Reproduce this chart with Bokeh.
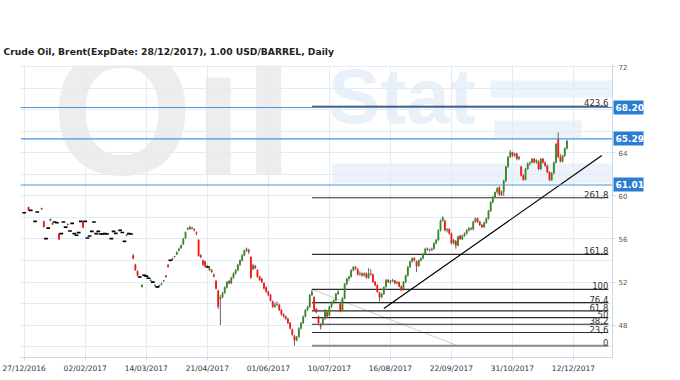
import pandas as pd
from bokeh.plotting import figure
from bokeh.models import ColumnDataSource, FixedTicker, Label, BoxAnnotation, Span, LinearAxis
from bokeh.core.properties import value
from bokeh.embed import file_html
from bokeh.resources import INLINE

title_text = "Crude Oil, Brent(ExpDate: 28/12/2017), 1.00 USD/BARREL, Daily"

date_labels = ["27/12/2016", "02/02/2017", "14/03/2017", "21/04/2017", "01/06/2017",
               "10/07/2017", "16/08/2017", "22/09/2017", "31/10/2017", "12/12/2017"]
date_tick_step = 28  # trading days between date labels

opens = [58.44, None, 58.96, 58.65, None, 57.63, 58.5, None, 58.75, 57.65,
         56.03, 57.01, 57.7, 57.5, 57.57, 57.51, 56.5, 56.5, 57.57, 57.1,
         57.4, 56.74, 57.45, 56.5, 56.34, 56.59, 57.63, 57.6, 57.63, 56.09,
         56.27, 56.71, 57.57, 56.5, 56.71, 56.46, 56.46, 56.5, 56.46, None,
         56.03, 56.71, 56.52, None, 56.8, 56.6, 55.78, 56.3, 56.5, 56.46,
         54.5, 53.6, 53.0, 52.47, 51.55, 52.63, 52.55, 52.35, 52.1, 52.0,
         51.65, 51.55, 51.55, 51.75, 52.1, 52.6, 53.6, 54.02, 54.05, 54.4,
         54.55, 54.9, 55.15, 55.5, 56.1, 57.0, 56.9, 57.05, 56.9, 56.6,
         55.9, 54.5, 54.0, 53.9, 53.4, 53.1, 53.1, 52.7, 52.1, 51.2,
         50.4, 50.6, 51.0, 51.5, 52.1, 51.9, 52.4, 52.8, 53.1, 53.6,
         54.0, 54.5, 54.95, 55.0, 54.33, 53.2, 53.5, 53.1, 52.5, 52.3,
         51.9, 51.5, 51.1, 50.8, 50.2, 49.7, 49.9, 49.9, 49.4, 49.0,
         48.8, 48.6, 48.2, 47.6, 47.0, 46.6, 46.9, 47.7, 48.2, 48.8,
         49.4, 49.7, 50.8, 50.6, 49.5, 48.8, 48.0, 48.15, 48.6, 49.2,
         48.9, 49.7, 50.1, 50.3, 50.9, 50.0, 49.4, 50.5, 51.85, 52.3,
         52.5, 53.1, 53.4, 53.2, 52.7, 52.8, 52.6, 52.8, 52.4, 52.8,
         52.7, 52.0, 51.7, 51.0, 50.6, 50.9, 51.55, 52.2, 52.0, 52.1,
         52.17, 51.9, 52.0, 51.6, 51.3, 52.0, 52.6, 53.4, 53.9, 54.2,
         53.9, 53.5, 54.0, 54.2, 54.6, 55.1, 55.0, 54.95, 55.1, 55.6,
         55.9, 56.8, 57.7, 57.7, 56.8, 56.9, 56.5, 55.6, 55.8, 55.4,
         56.3, 56.0, 56.3, 56.5, 56.8, 57.0, 56.9, 57.6, 57.9, 57.6,
         57.3, 57.1, 57.5, 57.9, 58.6, 59.4, 59.9, 60.35, 60.8, 60.1,
         60.4, 61.4, 62.7, 63.6, 64.05, 63.75, 63.9, 63.45, 62.7, 61.9,
         61.5, 62.5, 63.0, 63.1, 63.45, 63.13, 63.2, 62.5, 63.45, 63.1,
         62.8, 62.2, 61.45, 62.1, 63.1, 65.3, 63.6, 63.2, 63.75, 64.4]

highs = [58.44, None, 59.0, 58.65, None, 57.63, 58.5, None, 58.9, 57.7,
         56.03, 57.01, 57.9, 57.55, 57.57, 57.51, 56.55, 56.5, 57.57, 57.1,
         57.45, 56.74, 57.45, 56.5, 56.34, 56.59, 57.63, 57.65, 57.63, 56.09,
         56.27, 56.71, 57.57, 56.5, 56.71, 56.46, 56.46, 56.5, 56.46, None,
         56.03, 56.71, 56.52, None, 56.8, 56.6, 55.78, 56.45, 56.5, 56.46,
         54.6, 53.7, 53.1, 52.55, 51.8, 52.7, 52.6, 52.5, 52.3, 52.1,
         51.8, 51.65, 51.75, 51.95, 52.2, 52.65, 53.65, 54.1, 54.25, 54.45,
         54.85, 55.2, 55.5, 56.1, 56.7, 57.1, 57.25, 57.15, 57.0, 56.7,
         56.0, 54.6, 54.1, 54.0, 53.6, 53.5, 53.2, 52.8, 52.2, 51.3,
         50.8, 51.1, 51.6, 52.1, 52.2, 52.5, 52.9, 53.2, 53.7, 54.1,
         54.6, 55.0, 55.2, 55.1, 54.4, 53.7, 53.6, 53.2, 52.6, 52.4,
         52.0, 51.6, 51.2, 50.9, 50.3, 50.1, 50.2, 50.0, 49.5, 49.1,
         48.9, 48.7, 48.3, 47.7, 47.1, 47.0, 47.8, 48.3, 48.9, 49.5,
         49.8, 50.9, 51.33, 50.7, 49.6, 48.9, 48.2, 48.7, 49.5, 49.3,
         49.8, 50.2, 50.4, 51.0, 51.3, 50.1, 50.6, 51.9, 52.4, 52.6,
         53.2, 53.5, 53.5, 53.3, 53.0, 52.9, 52.9, 52.9, 53.3, 53.2,
         52.8, 52.1, 51.8, 51.1, 51.0, 51.6, 52.3, 52.3, 52.2, 52.3,
         52.2, 52.1, 52.05, 51.7, 52.1, 52.7, 53.5, 54.0, 54.3, 54.3,
         54.0, 54.1, 54.3, 54.7, 55.2, 55.2, 55.1, 55.2, 55.7, 56.0,
         56.9, 57.8, 58.1, 57.8, 57.0, 57.0, 56.6, 56.0, 55.9, 56.3,
         56.4, 56.4, 56.6, 56.9, 57.1, 57.1, 57.7, 58.0, 58.0, 57.7,
         57.4, 57.6, 58.0, 58.7, 59.5, 60.0, 60.4, 60.8, 60.9, 60.5,
         61.5, 62.8, 63.7, 64.25, 64.1, 64.0, 64.0, 63.7, 62.8, 62.0,
         62.6, 63.1, 63.2, 63.5, 63.5, 63.4, 63.3, 63.5, 63.5, 63.2,
         62.9, 62.3, 62.2, 63.2, 64.9, 65.9, 63.9, 63.8, 64.5, 65.2]

lows = [58.44, None, 58.6, 58.65, None, 57.63, 58.5, None, 58.7, 57.05,
        56.03, 57.01, 57.65, 57.3, 57.57, 57.51, 55.9, 56.5, 57.57, 57.1,
        57.25, 56.74, 57.45, 56.5, 56.34, 56.59, 57.63, 57.0, 57.63, 56.09,
        56.27, 56.71, 57.57, 56.5, 56.71, 56.46, 56.46, 56.5, 56.46, None,
        56.03, 56.71, 56.52, None, 56.8, 56.6, 55.78, 56.25, 56.5, 56.46,
        54.1, 53.05, 52.55, 52.4, 51.5, 52.55, 52.45, 52.3, 52.05, 51.95,
        51.6, 51.45, 51.5, 51.7, 52.0, 52.4, 53.35, 53.9, 54.0, 54.25,
        54.5, 54.85, 55.1, 55.45, 56.0, 56.8, 56.85, 56.9, 56.7, 56.35,
        54.35, 54.2, 53.5, 53.4, 53.3, 53.05, 52.85, 52.45, 51.3, 49.5,
        48.0, 50.5, 50.9, 51.4, 51.8, 51.8, 52.3, 52.7, 53.0, 53.5,
        53.9, 54.4, 54.8, 54.6, 52.3, 53.1, 53.2, 52.4, 52.1, 51.9,
        51.3, 51.0, 50.7, 50.2, 49.6, 49.6, 49.8, 49.3, 48.9, 48.7,
        48.5, 48.1, 47.6, 47.0, 46.1, 46.5, 46.85, 47.6, 48.1, 48.7,
        49.3, 49.6, 50.7, 49.3, 49.1, 48.1, 47.6, 48.0, 48.5, 48.7,
        48.8, 49.6, 50.0, 50.2, 50.8, 49.2, 49.3, 50.4, 51.7, 52.1,
        52.4, 53.0, 53.1, 52.6, 52.6, 52.5, 52.5, 52.3, 52.3, 52.6,
        51.9, 51.6, 51.0, 50.2, 50.5, 50.8, 51.5, 51.9, 51.8, 52.0,
        51.8, 51.8, 51.5, 51.15, 51.2, 51.9, 52.5, 53.3, 53.8, 53.9,
        52.94, 53.4, 53.9, 54.1, 54.5, 54.9, 54.8, 54.9, 55.0, 55.5,
        55.8, 56.7, 57.6, 56.7, 56.6, 56.4, 55.5, 55.5, 55.1, 55.3,
        55.9, 55.9, 56.2, 56.4, 56.7, 56.8, 56.8, 57.5, 57.5, 57.2,
        57.0, 57.0, 57.4, 57.8, 58.5, 59.3, 59.8, 60.2, 60.0, 60.0,
        60.0, 61.3, 62.6, 63.5, 63.6, 63.6, 63.3, 63.3, 61.8, 61.4,
        61.45, 62.4, 62.8, 63.0, 63.0, 63.0, 62.4, 62.4, 63.0, 62.7,
        62.1, 61.4, 61.4, 62.0, 63.0, 63.5, 63.1, 63.1, 63.6, 64.3]

closes = [58.44, None, 58.65, 58.65, None, 57.63, 58.5, None, 58.88, 57.1,
          56.03, 57.01, 57.85, 57.35, 57.57, 57.51, 55.95, 56.5, 57.57, 57.1,
          57.3, 56.74, 57.45, 56.5, 56.34, 56.59, 57.63, 57.05, 57.63, 56.09,
          56.27, 56.71, 57.57, 56.5, 56.71, 56.46, 56.46, 56.5, 56.46, None,
          56.03, 56.71, 56.52, None, 56.8, 56.6, 55.78, 56.42, 56.5, 56.46,
          54.18, 53.1, 52.6, 52.47, 51.75, 52.63, 52.55, 52.35, 52.2, 52.0,
          51.75, 51.55, 51.7, 51.86, 52.17, 52.47, 53.4, 54.02, 54.18, 54.33,
          54.79, 55.1, 55.41, 56.03, 56.65, 56.9, 57.1, 56.96, 56.8, 56.5,
          54.45, 54.33, 53.6, 53.45, 53.4, 53.3, 52.94, 52.5, 51.4, 49.7,
          50.6, 50.96, 51.5, 52.0, 51.9, 52.4, 52.8, 53.1, 53.6, 54.02,
          54.5, 54.95, 55.1, 54.8, 52.4, 53.56, 53.3, 52.5, 52.2, 52.0,
          51.4, 51.1, 50.8, 50.3, 49.7, 49.9, 50.0, 49.4, 49.0, 48.8,
          48.6, 48.2, 47.7, 47.1, 46.6, 46.9, 47.7, 48.2, 48.8, 49.4,
          49.7, 50.8, 51.1, 49.4, 49.2, 48.2, 47.85, 48.6, 49.4, 48.8,
          49.7, 50.1, 50.3, 50.9, 51.1, 49.3, 50.5, 51.85, 52.3, 52.5,
          53.1, 53.4, 53.25, 52.7, 52.8, 52.6, 52.8, 52.4, 52.8, 52.7,
          52.0, 51.7, 51.1, 50.6, 50.9, 51.55, 52.17, 52.0, 52.1, 52.17,
          51.9, 52.0, 51.6, 51.24, 52.0, 52.6, 53.4, 53.9, 54.2, 54.02,
          53.5, 54.02, 54.2, 54.6, 55.1, 55.0, 54.95, 55.1, 55.6, 55.9,
          56.8, 57.7, 58.0, 56.8, 56.9, 56.5, 55.6, 55.9, 55.4, 56.2,
          56.0, 56.3, 56.5, 56.8, 57.0, 56.9, 57.6, 57.9, 57.6, 57.3,
          57.1, 57.5, 57.9, 58.6, 59.4, 59.9, 60.35, 60.7, 60.1, 60.4,
          61.4, 62.7, 63.6, 64.05, 63.75, 63.9, 63.45, 63.6, 61.9, 61.5,
          62.5, 63.0, 63.1, 63.45, 63.13, 63.3, 62.5, 63.45, 63.1, 62.8,
          62.2, 61.45, 62.1, 63.1, 64.8, 63.6, 63.2, 63.75, 64.4, 65.1]

# Fibonacci levels
fib_ratios = [0, 23.6, 38.2, 50, 61.8, 76.4, 100, 161.8, 261.8, 423.6]
fib_labels = ["0", "23,6", "38,2", "50", "61,8", "76,4", "100", "161,8", "261,8", "423,6"]
fib_low = 46.08
fib_high = 51.33
fib_start = 132
fib_end = 268
fib_diag_end = 199

# Horizontal price levels
levels = [68.20, 65.29, 61.01]
level_labels = ["68.20", "65.29", "61.01"]

# Trend line
trend_x = [165, 265]
trend_y = [49.54, 63.75]

y_ticks = [48, 52, 56, 60, 64, 68, 72]

# ---------------------------------------------------------------
df = pd.DataFrame({"o": opens, "h": highs, "l": lows, "c": closes})
df["x"] = range(len(df))
df = df.dropna().reset_index(drop=True)
GREEN, RED = "#3a8a22", "#ff1414"
df["top"] = df[["o", "c"]].max(axis=1)
df["bottom"] = df[["o", "c"]].min(axis=1)
df["color"] = [GREEN if c > o else RED for o, c in zip(df["o"], df["c"])]
bodies = ColumnDataSource(df[df["o"] != df["c"]])
dojis = ColumnDataSource(df[df["o"] == df["c"]])
allsrc = ColumnDataSource(df)

tick_pos = [i * date_tick_step for i in range(len(date_labels))]

X_END = 269.9
p = figure(frame_width=592, frame_height=292, output_backend="svg", toolbar_location=None,
           x_range=(-1.7, X_END), y_range=(45.0, 72.1), y_axis_location="right",
           min_border_left=20, min_border_right=60, min_border_top=65, min_border_bottom=21)
p.outline_line_color = None
p.background_fill_color = "white"
p.border_fill_color = "white"

p.title.text = title_text
p.title.text_font = "DejaVu Sans"
p.title.text_font_size = "9.2px"
p.title.text_font_style = "bold"
p.title.text_color = "#222222"
p.title.align = "left"
p.title.offset = -17
p.title.standoff = 18

# watermark logo
p.add_layout(Label(x=12.5, y=58.4, text="Oil", text_font="Liberation Sans", text_font_style="bold",
                   text_font_size="182px", text_color="#ededed", level="image"))
p.add_layout(Label(x=139.5, y=65.15, text="Stat", text_font="Liberation Sans", text_font_style="bold",
                   text_font_size="78px", text_color="#e8f0f9", level="image"))
for l_, r_, t_, b_ in [(214, 272, 70.7, 69.13), (215.7, 255.7, 67.0, 65.4), (141.4, 272, 63.0, 61.16)]:
    p.add_layout(BoxAnnotation(left=l_, right=r_, top=t_, bottom=b_, fill_color="#ebf2fa",
                               fill_alpha=1.0, line_color=None, level="image"))

# grids
grid_col = "#e3ecf6"
p.xgrid.ticker = FixedTicker(ticks=tick_pos)
p.ygrid.ticker = FixedTicker(ticks=list(range(46, 73, 2)))
p.xgrid.grid_line_color = grid_col
p.ygrid.grid_line_color = grid_col

# axes
p.xaxis.ticker = FixedTicker(ticks=tick_pos)
p.xaxis.major_label_overrides = {t: lab for t, lab in zip(tick_pos, date_labels)}
p.yaxis.ticker = FixedTicker(ticks=y_ticks)
for ax in (p.xaxis, p.yaxis):
    ax.axis_line_color = "#c6d9ee"
    ax.major_tick_line_color = "#c6d9ee"
    ax.minor_tick_line_color = None
    ax.major_tick_in = 0
    ax.major_tick_out = 3
    ax.major_label_text_font = "DejaVu Sans"
    ax.major_label_text_color = "#333333"
p.xaxis.major_label_text_font_size = "7.5px"
p.xaxis.major_label_standoff = 3
p.yaxis.major_label_text_font_size = "7px"
p.yaxis.major_label_text_color = "#555555"
p.yaxis.major_label_standoff = 3

# blue price levels
for lv in levels:
    p.add_layout(Span(location=lv, dimension="width", line_color="#4b93dc", line_width=1.2))

# value tags for the blue levels: a second right-hand axis (stacked after the price axis)
# whose thick ticks reach back to the frame edge and form the blue boxes behind the labels
tag_axis = LinearAxis(ticker=FixedTicker(ticks=levels),
                      major_label_overrides={lv: lab for lv, lab in zip(levels, level_labels)},
                      axis_line_color=None,
                      major_tick_line_color="#2b7dd2", major_tick_line_width=14,
                      major_tick_in=17, major_tick_out=13, minor_tick_line_color=None,
                      major_label_standoff=-28, major_label_text_color="white",
                      major_label_text_font="DejaVu Sans", major_label_text_font_size="9px",
                      major_label_text_font_style="bold")
p.add_layout(tag_axis, "right")

# fibonacci
fib_vals = [fib_low + r / 100.0 * (fib_high - fib_low) for r in fib_ratios]
fib_cols = ["#8a8a8a" if r == 0 else "#2b2b2b" for r in fib_ratios]
fib_w = [2 if r == 0 else 1.2 for r in fib_ratios]
fsrc = ColumnDataSource(dict(x0=[fib_start] * len(fib_vals), x1=[fib_end] * len(fib_vals),
                             y=fib_vals, col=fib_cols, w=fib_w, lab=fib_labels))
p.line([fib_start, fib_diag_end], [fib_high, fib_low], line_color="#cccccc", line_width=1)
p.segment(x0="x0", y0="y", x1="x1", y1="y", line_color="col", line_width="w", source=fsrc)
p.text(x="x1", y="y", text="lab", source=fsrc, text_align="right", text_baseline="bottom",
       text_font=value("DejaVu Sans"), text_font_size="8.5px", text_color="#333333")

# candles
p.segment(x0="x", y0="h", x1="x", y1="l", source=allsrc, line_color="#666666", line_width=1)
p.vbar(x="x", width=0.85, top="top", bottom="bottom", source=bodies,
       fill_color="color", line_color=None)
p.rect(x="x", y="c", width=1.7, height=1.6, height_units="screen", source=dojis,
       fill_color="black", line_color=None)

# trend line
p.line(trend_x, trend_y, line_color="black", line_width=1.2)

open("out.html", "w").write(file_html(p, INLINE))
